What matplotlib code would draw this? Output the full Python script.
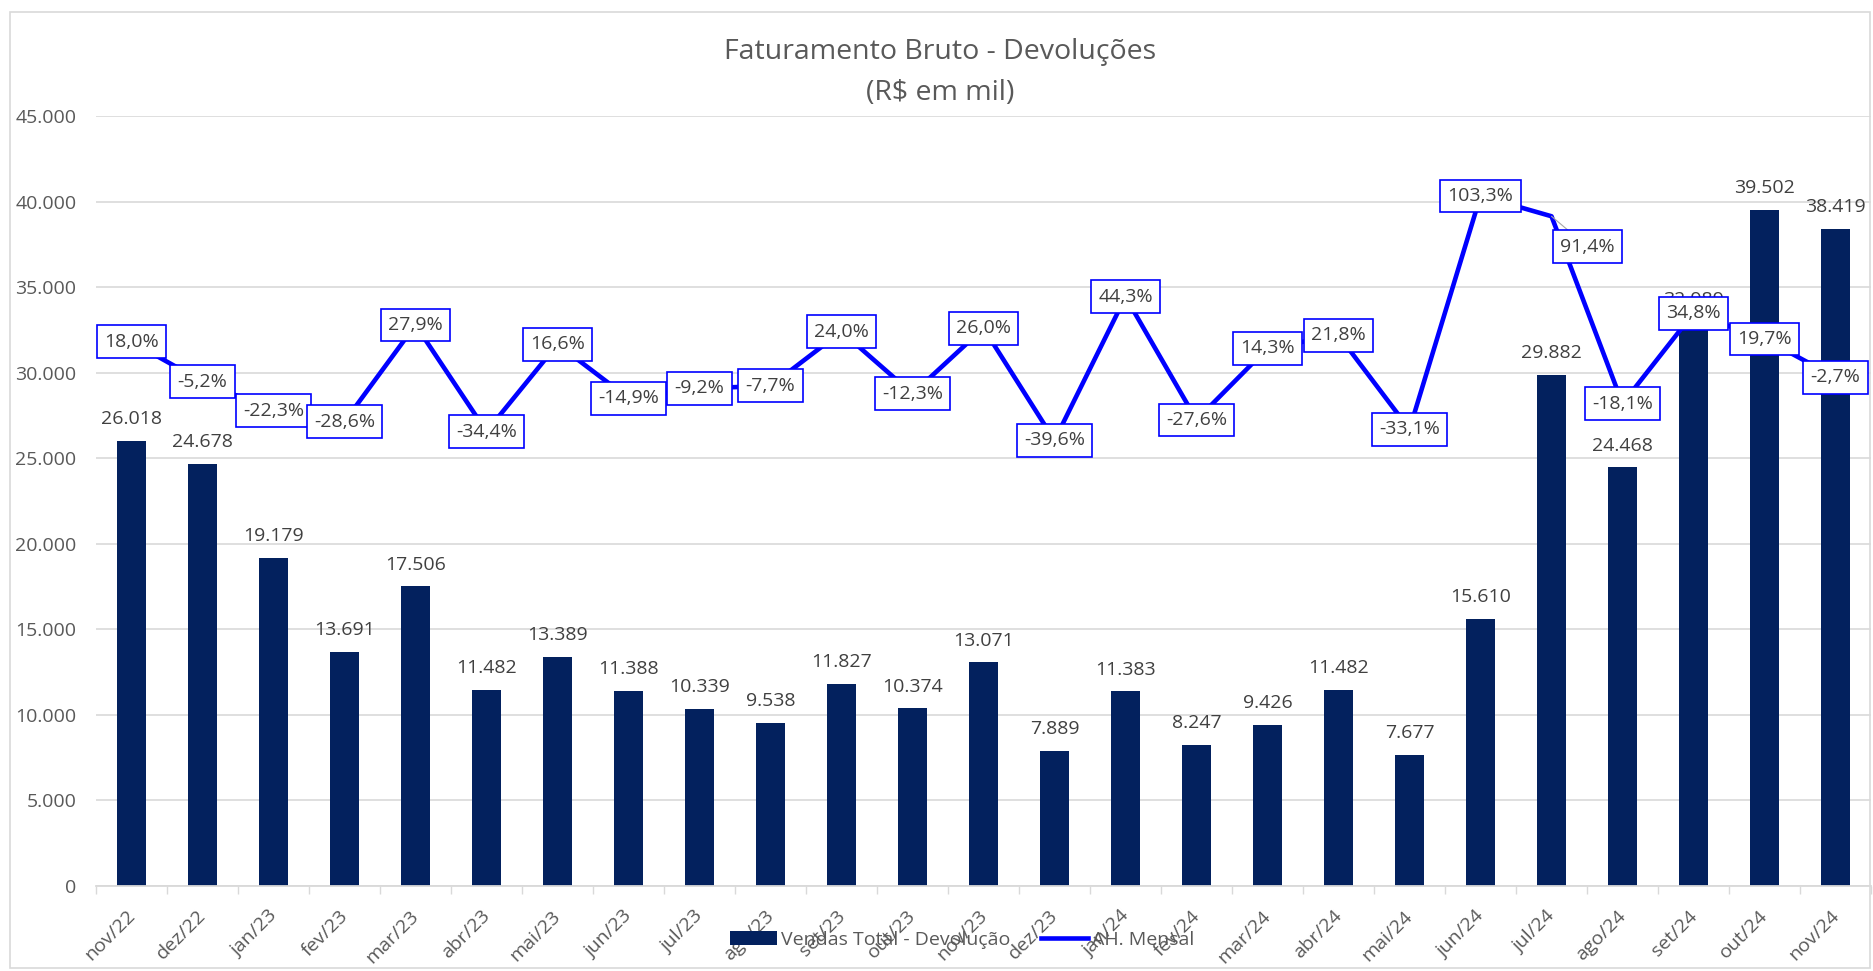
import numpy as np
import matplotlib
matplotlib.use('Agg')
import matplotlib.pyplot as plt
from matplotlib.ticker import MultipleLocator, FuncFormatter
from matplotlib.patches import Rectangle
from matplotlib.transforms import ScaledTranslation

plt.rcParams['font.family'] = ['Open Sans', 'DejaVu Sans']

meses = ['nov/22', 'dez/22', 'jan/23', 'fev/23', 'mar/23', 'abr/23', 'mai/23', 'jun/23',
         'jul/23', 'ago/23', 'set/23', 'out/23', 'nov/23', 'dez/23', 'jan/24', 'fev/24',
         'mar/24', 'abr/24', 'mai/24', 'jun/24', 'jul/24', 'ago/24', 'set/24', 'out/24', 'nov/24']
vendas = [26018, 24678, 19179, 13691, 17506, 11482, 13389, 11388, 10339, 9538, 11827, 10374,
          13071, 7889, 11383, 8247, 9426, 11482, 7677, 15610, 29882, 24468, 32989, 39502, 38419]
ah_mensal = [18.0, -5.2, -22.3, -28.6, 27.9, -34.4, 16.6, -14.9, -9.2, -7.7, 24.0, -12.3,
             26.0, -39.6, 44.3, -27.6, 14.3, 21.8, -33.1, 103.3, 91.4, -18.1, 34.8, 19.7, -2.7]

W, H = 1874, 971
cinza = '#595959'
texto = '#404040'
grade = '#D9D9D9'
fs = 14

fig = plt.figure(figsize=(W / 100, H / 100), dpi=100)
ax = fig.add_axes([96 / W, 1 - 886 / H, (1871 - 96) / W, (886 - 116) / H])

x = np.arange(len(meses))
barras = ax.bar(x, vendas, width=0.4, color='#03215E', zorder=2)

ax.set_xlim(-0.5, len(meses) - 0.5)
ax.set_ylim(0, 45000)
ax.yaxis.set_major_locator(MultipleLocator(5000))
ax.yaxis.set_major_formatter(FuncFormatter(lambda v, p: f'{int(v):,}'.replace(',', '.')))
ax.grid(axis='y', color=grade, lw=1.2)
ax.set_axisbelow(True)
for s in ['top', 'right', 'left']:
    ax.spines[s].set_visible(False)
ax.spines['bottom'].set_color(grade)
ax.spines['bottom'].set_linewidth(1.3)
ax.tick_params(axis='y', length=0, pad=14, labelsize=fs, labelcolor=cinza)

ax.set_xticks(x)
ax.set_xticklabels(meses, rotation=45, ha='right', va='top')
ax.tick_params(axis='x', which='major', length=0, pad=15, labelsize=fs, labelcolor=cinza)
ax.set_xticks(np.arange(-0.5, len(meses), 1), minor=True)
ax.tick_params(axis='x', which='minor', length=6, width=1, color=grade)
for lbl in ax.get_xticklabels():
    lbl.set_transform(lbl.get_transform() + ScaledTranslation(7 / 100, 0, fig.dpi_scale_trans))

# rótulos das barras
for xi, v in zip(x, vendas):
    ax.annotate(f'{v:,}'.replace(',', '.'), (xi, v), xytext=(0, 12), textcoords='offset points',
                ha='center', va='baseline', fontsize=fs, color=texto)

# linha AH no eixo secundário (oculto)
ax2 = ax.twinx()
ax2.set_ylim(-300, 150)
ax2.set_axis_off()
linha, = ax2.plot(x, ah_mensal, color='#0000FF', lw=3.3, zorder=3)

caixa = dict(boxstyle='square,pad=0.38', fc='white', ec='#0000FF', lw=1.2)
for xi, v in zip(x, ah_mensal):
    rot = f'{v:.1f}%'.replace('.', ',')
    if v == 91.4:
        ax2.annotate(rot, (xi, v), xytext=(26, -22), textcoords='offset points',
                     ha='center', va='center', fontsize=fs, color=texto, bbox=caixa, zorder=5,
                     arrowprops=dict(arrowstyle='-', color='#A6A6A6', lw=0.8, shrinkA=0, shrinkB=0))
    else:
        ax2.annotate(rot, (xi, v), ha='center', va='center', fontsize=fs, color=texto,
                     bbox=caixa, zorder=5)

fig.text(940 / W, 1 - 52 / H, 'Faturamento Bruto - Devoluções', ha='center', va='center',
         fontsize=20.5, color=cinza)
fig.text(940 / W, 1 - 93 / H, '(R$ em mil)', ha='center', va='center', fontsize=20.5, color=cinza)

fig.legend([barras, linha], ['Vendas Total - Devolução', 'AH. Mensal'], loc='center',
           bbox_to_anchor=(962 / W, 1 - 940 / H), ncol=2, frameon=False, fontsize=fs,
           labelcolor=cinza, handlelength=2.4, handletextpad=0.2, columnspacing=1.6)

fig.add_artist(Rectangle((10 / W, 3 / H), (1870 - 10) / W, (968 - 12) / H,
                         transform=fig.transFigure, fill=False, ec=grade, lw=1.2))

fig.savefig('out.png', dpi=100)
